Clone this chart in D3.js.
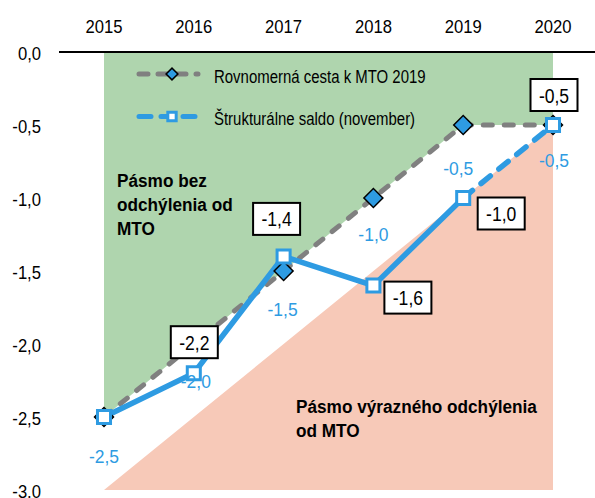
<!DOCTYPE html>
<html>
<head>
<meta charset="utf-8">
<script src="https://cdn.jsdelivr.net/npm/d3@7"></script>
<style>
  body { margin: 0; background: #fff; }
  svg text { font-family: "Liberation Sans", Arial, sans-serif; }
</style>
</head>
<body>
<svg id="chart"></svg>
<script>
// data
var years = ["2015", "2016", "2017", "2018", "2019", "2020"];
var mtoPath = [-2.5, -2.0, -1.5, -1.0, -0.5, -0.5];       // Rovnomerná cesta k MTO 2019
var structural = [-2.5, -2.2, -1.4, -1.6, -1.0, -0.5];    // Štrukturálne saldo (november)
var zoneLow = [-3.0, -2.5, -2.0, -1.5, -1.0, -0.5];       // hranica pásma výrazného odchýlenia
var yTicks = [0, -0.5, -1.0, -1.5, -2.0, -2.5, -3.0];
var legendNames = ["Rovnomerná cesta k MTO 2019", "Štrukturálne saldo (november)"];

var width = 595, height = 498;
var blue = "#2e9be2", gray = "#808080", green = "#afd5ae", pink = "#f7c9b8";

var svg = d3.select("#chart").attr("width", width).attr("height", height);

var x = d3.scalePoint().domain(years).range([104, 553]);
var y = d3.scaleLinear().domain([-3, 0]).range([490, 52]);
var fmt = function (v) { return d3.format(".1f")(v).replace(".", ",").replace("−", "-"); };

// the original font is a narrow Arial, so squeeze text horizontally
function place(px, py, sx) {
    return "translate(" + px + "," + py + ") scale(" + sx + ",1)";
}

// green zone: above the MTO path
var greenArea = d3.area()
    .x(function (d, i) { return x(years[i]); })
    .y0(function (d) { return y(d); })
    .y1(y(0));
svg.append("path").datum(mtoPath).attr("d", greenArea).attr("fill", green);

// pink zone: below the lower boundary
var pinkArea = d3.area()
    .x(function (d, i) { return x(years[i]); })
    .y0(y(-3))
    .y1(function (d) { return y(d); });
svg.append("path").datum(zoneLow).attr("d", pinkArea).attr("fill", pink);

// top axis with years
svg.append("line")
    .attr("x1", 59).attr("x2", width)
    .attr("y1", y(0)).attr("y2", y(0))
    .attr("stroke", "#000").attr("stroke-width", 2);

svg.append("g").selectAll("text")
    .data(years).enter().append("text")
    .attr("transform", function (d) { return place(x(d), 33, 0.9); })
    .attr("text-anchor", "middle")
    .attr("font-size", 18.5)
    .text(function (d) { return d; });

// y axis labels
svg.append("g").selectAll("text")
    .data(yTicks).enter().append("text")
    .attr("transform", function (d) { return place(41, y(d) + 7.5, 0.9); })
    .attr("text-anchor", "end")
    .attr("font-size", 18.5)
    .text(fmt);

// zone captions
function caption(lines, px, py) {
    lines.forEach(function (t, i) {
        svg.append("text")
            .attr("transform", place(px, py + i * 24, 0.93))
            .attr("font-size", 18.5)
            .attr("font-weight", "bold")
            .text(t);
    });
}
caption(["Pásmo bez", "odchýlenia od", "MTO"], 117, 187);
caption(["Pásmo výrazného odchýlenia", "od MTO"], 296, 413);

var line = d3.line()
    .x(function (d) { return x(d.year); })
    .y(function (d) { return y(d.v); });

var mtoPts = years.map(function (yr, i) { return { year: yr, v: mtoPath[i] }; });
var strPts = years.map(function (yr, i) { return { year: yr, v: structural[i] }; });

// gray dashed MTO path
svg.append("path").datum(mtoPts)
    .attr("d", line)
    .attr("fill", "none")
    .attr("stroke", gray)
    .attr("stroke-width", 5)
    .attr("stroke-linecap", "round")
    .attr("stroke-dasharray", "9,12");

// structural balance: solid up to 2019, dashed to 2020
svg.append("path").datum(strPts.slice(0, 5))
    .attr("d", line)
    .attr("fill", "none")
    .attr("stroke", blue)
    .attr("stroke-width", 5.5)
    .attr("stroke-linejoin", "round");
svg.append("path").datum(strPts.slice(4))
    .attr("d", line)
    .attr("fill", "none")
    .attr("stroke", blue)
    .attr("stroke-width", 5.5)
    .attr("stroke-linecap", "round")
    .attr("stroke-dasharray", "12,11");

// diamond markers
var diamond = d3.symbol().type(d3.symbolSquare).size(180);
svg.append("g").selectAll("path")
    .data(mtoPts).enter().append("path")
    .attr("d", diamond)
    .attr("transform", function (d) { return "translate(" + x(d.year) + "," + y(d.v) + ") rotate(45)"; })
    .attr("fill", blue)
    .attr("stroke", "#000")
    .attr("stroke-width", 1.5);

// square markers
var square = d3.symbol().type(d3.symbolSquare).size(170);
svg.append("g").selectAll("path")
    .data(strPts).enter().append("path")
    .attr("d", square)
    .attr("transform", function (d) { return "translate(" + x(d.year) + "," + y(d.v) + ")"; })
    .attr("fill", "#fff")
    .attr("stroke", blue)
    .attr("stroke-width", 3);

// blue labels under the MTO path
var mtoOffsets = [[0, 39], [2, 36.5], [-1, 37.5], [0, 36], [-5, 43], [1, 35]];
svg.append("g").selectAll("text")
    .data(mtoPts).enter().append("text")
    .attr("transform", function (d, i) {
        return place(x(d.year) + mtoOffsets[i][0], y(d.v) + mtoOffsets[i][1] + 7, 0.92);
    })
    .attr("text-anchor", "middle")
    .attr("font-size", 19)
    .attr("fill", blue)
    .text(function (d) { return fmt(d.v); });

// boxed labels for structural balance (2015 has none)
var boxOffsets = [null, [0.5, -31], [-7, -37.5], [34.5, 12], [38, 15.5], [1, -30]];
var boxes = svg.append("g").selectAll("g")
    .data(strPts.filter(function (d, i) { return boxOffsets[i]; }))
    .enter().append("g")
    .attr("transform", function (d) {
        var o = boxOffsets[years.indexOf(d.year)];
        return "translate(" + (x(d.year) + o[0]) + "," + (y(d.v) + o[1]) + ")";
    });
boxes.append("rect")
    .attr("x", -23.5).attr("y", -16).attr("width", 47).attr("height", 32)
    .attr("fill", "#fff").attr("stroke", "#000").attr("stroke-width", 2);
boxes.append("text")
    .attr("transform", place(0, 7.5, 0.9))
    .attr("text-anchor", "middle")
    .attr("font-size", 19.5)
    .text(function (d) { return fmt(d.v); });

// legend
var legend = svg.append("g");
var legRows = [
    { y: 74, color: gray, dash: "9,10", marker: diamond, rot: 45, fill: blue, stroke: "#000", sw: 1.5 },
    { y: 116.5, color: blue, dash: "12,10", marker: square, rot: 0, fill: "#fff", stroke: blue, sw: 3 }
];
legRows.forEach(function (r, i) {
    legend.append("line")
        .attr("x1", 139).attr("x2", 198)
        .attr("y1", r.y).attr("y2", r.y)
        .attr("stroke", r.color).attr("stroke-width", 5)
        .attr("stroke-linecap", "round")
        .attr("stroke-dasharray", r.dash);
    legend.append("path")
        .attr("d", r.marker.size(70))
        .attr("transform", "translate(172," + r.y + ") rotate(" + r.rot + ")")
        .attr("fill", r.fill).attr("stroke", r.stroke).attr("stroke-width", r.sw);
    legend.append("text")
        .attr("transform", place(214, r.y + 8.5, 0.8))
        .attr("font-size", 18.7)
        .text(legendNames[i]);
});
</script>
</body>
</html>
